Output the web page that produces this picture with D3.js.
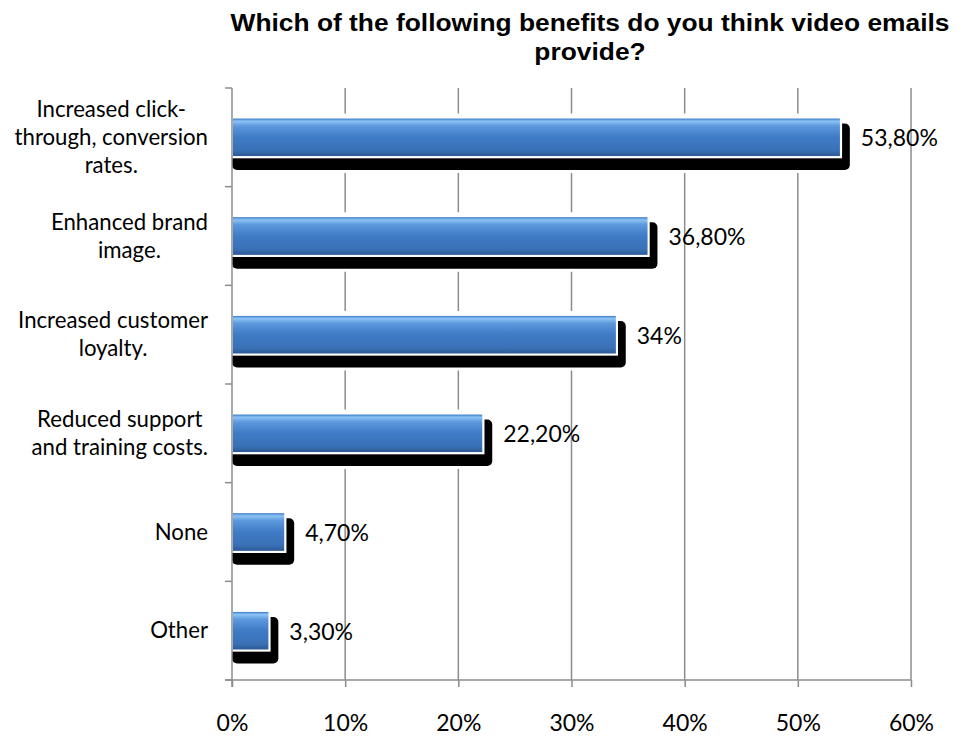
<!DOCTYPE html>
<html>
<head>
<meta charset="utf-8">
<script src="https://cdn.jsdelivr.net/npm/d3@7"></script>
<style>
  body { margin: 0; background: #fff; }
  text { font-family: Lato, "Open Sans", sans-serif; fill: #000; }
</style>
</head>
<body>
<svg id="chart"></svg>
<script>
var w = 963;
var h = 736;
// data
let categories = [
  ["Increased click-", "through, conversion", "rates."],
  ["Enhanced brand", "image."],
  ["Increased customer", "loyalty."],
  ["Reduced support", "and training costs."],
  ["None"],
  ["Other"]
];
let values = [53.8, 36.8, 34, 22.2, 4.7, 3.3];
let valueLabels = ["53,80%", "36,80%", "34%", "22,20%", "4,70%", "3,30%"];
let ticks = [0, 10, 20, 30, 40, 50, 60];
let title = ["Which of the following benefits do you think video emails", "provide?"];

var svg = d3.select("#chart")
  .attr("width", w)
  .attr("height", h);

var x = d3.scaleLinear().domain([0, 60]).range([232, 911]);
var y = d3.scaleBand()
  .domain(d3.range(values.length))
  .range([88, 680])
  .paddingInner(0.6)
  .paddingOuter(0.3);

// gradient for bars
var defs = svg.append("defs");
var grad = defs.append("linearGradient")
  .attr("id", "barGrad")
  .attr("x1", 0).attr("y1", 0).attr("x2", 0).attr("y2", 1);
[["0%", "#3f7cc8"], ["7%", "#8cc3f4"], ["20%", "#5c98dd"], ["50%", "#3f7bc6"], ["85%", "#3a71b6"], ["100%", "#2b5a94"]]
  .forEach(s => grad.append("stop").attr("offset", s[0]).attr("stop-color", s[1]));

// title (stretched a bit wide like the original)
var titles = svg.append("g").selectAll("text")
  .data(title)
  .enter()
  .append("text")
  .attr("x", 590)
  .attr("y", (d, i) => 31 + i * 29)
  .attr("text-anchor", "middle")
  .style("font-family", "'Liberation Sans', Arial, sans-serif")
  .style("font-weight", "bold")
  .style("font-size", "23px")
  .text(d => d);
var stretch = 719 / titles.node().getComputedTextLength();
titles.each(function () {
  var t = d3.select(this);
  t.attr("textLength", this.getComputedTextLength() * stretch)
    .attr("lengthAdjust", "spacingAndGlyphs");
});

// grid lines
svg.append("g").selectAll("line")
  .data(ticks.slice(1))
  .enter()
  .append("line")
  .attr("x1", d => x(d)).attr("x2", d => x(d))
  .attr("y1", 88).attr("y2", 680)
  .attr("stroke", "#8c8c8c")
  .attr("stroke-width", 1.5);

// bars
var bars = svg.append("g").selectAll("g")
  .data(values)
  .enter()
  .append("g");

// white halo so gridlines break around the bar
bars.append("rect")
  .attr("x", x(0))
  .attr("y", (d, i) => y(i) - 4)
  .attr("width", d => x(d) - x(0) + 12)
  .attr("height", y.bandwidth() + 20)
  .attr("rx", 4)
  .attr("fill", "#fff");

// shadow
bars.append("rect")
  .attr("x", x(0))
  .attr("y", (d, i) => y(i) + 6)
  .attr("width", d => x(d) - x(0) + 9)
  .attr("height", y.bandwidth() + 7)
  .attr("rx", 5)
  .attr("fill", "#000");

bars.append("rect")
  .attr("x", x(0))
  .attr("y", (d, i) => y(i))
  .attr("width", d => x(d) - x(0))
  .attr("height", y.bandwidth())
  .attr("fill", "url(#barGrad)")
  .attr("stroke", "#fff")
  .attr("stroke-width", 2.5);

bars.append("rect")
  .attr("x", x(0) + 1)
  .attr("y", (d, i) => y(i) + 1)
  .attr("width", d => Math.max(0, x(d) - x(0) - 2))
  .attr("height", y.bandwidth() - 2)
  .attr("fill", "url(#barGrad)");

// value labels
bars.append("text")
  .attr("x", d => x(d) + 20)
  .attr("y", (d, i) => y(i) + y.bandwidth() / 2 + 9)
  .style("font-size", "23px")
  .text((d, i) => valueLabels[i]);

// axes
var gx = svg.append("g")
  .attr("transform", "translate(0,680)")
  .call(d3.axisBottom(x).tickValues(ticks).tickSize(7).tickPadding(34).tickFormat(d => d + "%"));
gx.select(".domain").attr("stroke", "#8c8c8c").attr("stroke-width", 1.5).attr("d", "M225,0H911");
gx.selectAll(".tick line").attr("stroke", "#8c8c8c").attr("stroke-width", 1.5);
gx.selectAll(".tick text")
  .attr("dy", 0)
  .style("font-size", "23px")
  .style("font-family", "Lato, sans-serif")
  .attr("fill", "#000")
  .attr("y", 51);

var yTicks = d3.range(values.length + 1).map(i => 88 + i * (592 / values.length));
var gy = svg.append("g");
gy.append("line")
  .attr("x1", x(0)).attr("x2", x(0))
  .attr("y1", 88).attr("y2", 687)
  .attr("stroke", "#8c8c8c").attr("stroke-width", 1.5);
gy.selectAll("line.tk")
  .data(yTicks)
  .enter()
  .append("line")
  .attr("class", "tk")
  .attr("x1", 225).attr("x2", x(0))
  .attr("y1", d => d).attr("y2", d => d)
  .attr("stroke", "#8c8c8c").attr("stroke-width", 1.5);

// category labels: block right-aligned, each line centred in the block
var lineH = 28;
var cats = svg.append("g").selectAll("g")
  .data(categories)
  .enter()
  .append("g");
cats.each(function (lines, i) {
  var g = d3.select(this);
  var cy = y(i) + y.bandwidth() / 2 + 7.5;
  var ts = g.selectAll("text")
    .data(lines)
    .enter()
    .append("text")
    .attr("text-anchor", "middle")
    .style("font-size", "22.2px")
    .attr("y", (d, j) => cy + (j - (lines.length - 1) / 2) * lineH)
    .text(d => d);
  var maxW = d3.max(ts.nodes(), n => n.getComputedTextLength());
  ts.attr("x", 208 - maxW / 2);
});
</script>
</body>
</html>
